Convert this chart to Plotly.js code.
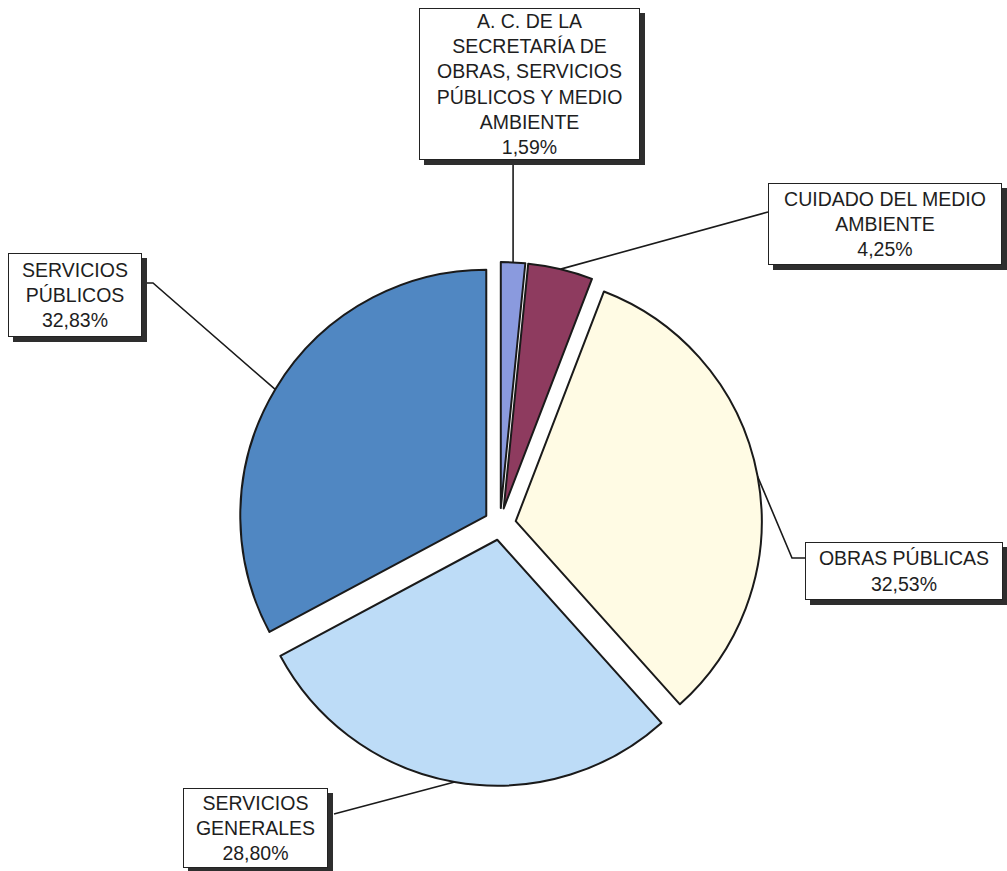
<!DOCTYPE html>
<html>
<head>
<meta charset="utf-8">
<script src="https://cdn.plot.ly/plotly-3.0.1.min.js"></script>
<style>html,body{margin:0;padding:0;background:#fff;}#chart{width:1007px;height:871px;}</style>
</head>
<body>
<div id="chart"></div>
<script>
// ---- data ----
const categories = [
  'A. C. DE LA SECRETARÍA DE OBRAS, SERVICIOS PÚBLICOS Y MEDIO AMBIENTE',
  'CUIDADO DEL MEDIO AMBIENTE',
  'OBRAS PÚBLICAS',
  'SERVICIOS GENERALES',
  'SERVICIOS PÚBLICOS'
];
const values = [1.59, 4.25, 32.53, 28.80, 32.83];
const labelLines = [
  ['A. C. DE LA', 'SECRETARÍA DE', 'OBRAS, SERVICIOS', 'PÚBLICOS Y MEDIO', 'AMBIENTE'],
  ['CUIDADO DEL MEDIO', 'AMBIENTE'],
  ['OBRAS PÚBLICAS'],
  ['SERVICIOS', 'GENERALES'],
  ['SERVICIOS', 'PÚBLICOS']
];
const colors = ['#8a9ade', '#8e3b5f', '#fffbe4', '#bddcf7', '#5087c2'];

// ---- layout geometry (pixels) ----
const W = 1007, H = 871;
const CX = 500, CY = 524, R = 246, PULL = 0.065;
const HALF = R * (1 + PULL);
// label boxes: [left, top, right, bottom]
const boxes = [
  [419, 8, 640, 160],
  [768, 183, 1002, 265],
  [805, 542, 1003, 600],
  [183, 788, 328, 868],
  [8, 253, 142, 337]
];
const total = values.reduce((a, b) => a + b, 0);
function tipOf(i) {
  let start = 0;
  for (let k = 0; k < i; k++) start += values[k];
  const mid = (start + values[i] / 2) / total * 2 * Math.PI;
  const rr = R * (1 + PULL);
  return [CX + rr * Math.sin(mid), CY - rr * Math.cos(mid)];
}
const px = x => x / W, py = y => 1 - y / H;
const fmt = v => v.toFixed(2).replace('.', ',') + '%';

const connectors = [
  t => [[t[0], boxes[0][3]], t],
  t => [[boxes[1][0], 212], t],
  t => [[boxes[2][0], 558], [792, 558], t],
  t => [[boxes[3][2] + 6, 814], t],
  t => [[boxes[4][2], 283], [153, 283], t]
];

const shapes = [];
const annotations = [];
values.forEach((v, i) => {
  const t = tipOf(i);
  const pts = connectors[i](t);
  const path = pts.map((p, j) => (j ? 'L' : 'M') + px(p[0]) + ',' + py(p[1])).join(' ');
  shapes.push({type: 'path', xref: 'paper', yref: 'paper', path: path,
    line: {color: '#1a1a1a', width: 1.6}, layer: 'above'});
});
boxes.forEach((b, i) => {
  shapes.push({type: 'rect', xref: 'paper', yref: 'paper',
    x0: px(b[0] + 5), x1: px(b[2] + 5), y0: py(b[1] + 5), y1: py(b[3] + 5),
    fillcolor: '#2e2e2e', line: {width: 0}, layer: 'above'});
  annotations.push({
    xref: 'paper', yref: 'paper',
    x: px((b[0] + b[2]) / 2), y: py((b[1] + b[3]) / 2),
    xanchor: 'center', yanchor: 'middle',
    width: b[2] - b[0] - 2, height: b[3] - b[1] - 2,
    borderpad: 0, borderwidth: 1, bordercolor: '#222', bgcolor: '#ffffff',
    showarrow: false, align: 'center', valign: 'middle',
    text: labelLines[i].concat([fmt(values[i])]).join('<br>'),
    font: {family: 'Liberation Sans, Arial, sans-serif', size: 19.5, color: '#1e1e1e'}
  });
});

const trace = {
  type: 'pie',
  labels: categories,
  values: values,
  sort: false,
  direction: 'clockwise',
  rotation: 0,
  pull: values.map(() => PULL),
  marker: {colors: colors, line: {color: '#1a1a1a', width: 2}},
  textinfo: 'none',
  hoverinfo: 'label+percent',
  domain: {x: [px(CX - HALF), px(CX + HALF)], y: [py(CY + HALF), py(CY - HALF)]}
};

Plotly.newPlot('chart', [trace], {
  width: W, height: H,
  margin: {l: 0, r: 0, t: 0, b: 0},
  showlegend: false,
  paper_bgcolor: '#ffffff',
  shapes: shapes,
  annotations: annotations
}, {displayModeBar: false, staticPlot: true});
</script>
</body>
</html>
